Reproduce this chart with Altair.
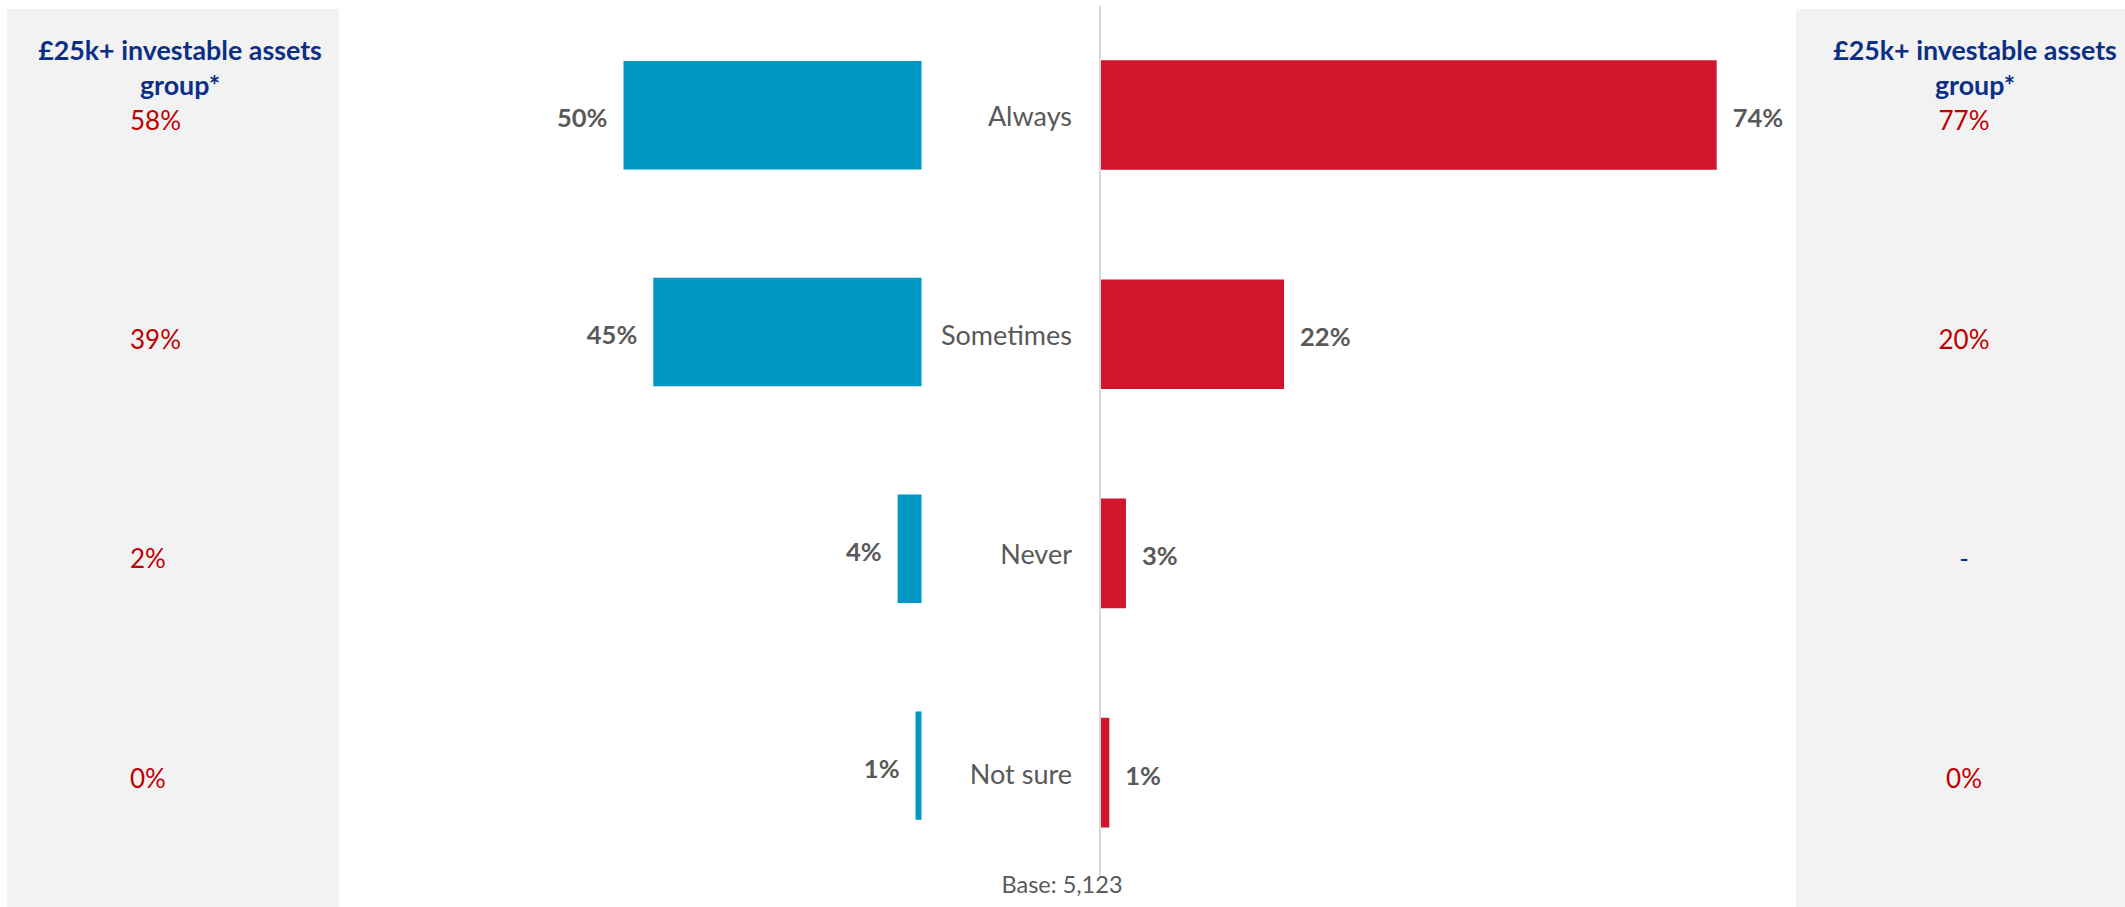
import altair as alt
import pandas as pd

# ---- data ----
categories = ["Always", "Sometimes", "Never", "Not sure"]
left_values = [50, 45, 4, 1]          # blue bars (left side)
right_values = [74, 22, 3, 1]         # red bars (right side)
left_group = ["58%", "39%", "2%", "0%"]
right_group = ["77%", "20%", "-", "0%"]
header_lines = ["£25k+ investable assets", "group*"]
base_note = ["Base: 5,123"]

df = pd.DataFrame({
    "cat": categories,
    "left": left_values,
    "right": right_values,
    "lg": left_group,
    "rg": right_group,
})
one = pd.DataFrame({"k": [0]})
hdr = pd.DataFrame({"text": ["\n".join(header_lines)]})
note = pd.DataFrame({"text": base_note})

FONT = "Lato"
GREY_TXT = "#595959"
BLUE = "#0098C3"
RED = "#D0152D"
NAVY = "#0B2F85"
RED_TXT = "#C00000"
PANEL = "#F2F2F2"

blue_y = alt.Y("cat:N", sort=categories, axis=None,
               scale=alt.Scale(range=[6.8, 874], paddingInner=0.5, paddingOuter=0.25))
red_y = alt.Y("cat:N", sort=categories, axis=None,
              scale=alt.Scale(range=[5.4, 882.2], paddingInner=0.5, paddingOuter=0.25))
blue_x = alt.X("left:Q", axis=None, scale=alt.Scale(domain=[0, 50], range=[921.5, 623.5]))
red_x = alt.X("right:Q", axis=None, scale=alt.Scale(domain=[0, 74], range=[1101, 1716.7]))

# background panels
left_panel = alt.Chart(one).mark_rect(color=PANEL).encode(
    x=alt.value(7), x2=alt.value(339), y=alt.value(9), y2=alt.value(907))
right_panel = alt.Chart(one).mark_rect(color=PANEL).encode(
    x=alt.value(1796), x2=alt.value(2125), y=alt.value(9), y2=alt.value(907))

axis_line = alt.Chart(one).mark_rule(color="#D9D9D9", strokeWidth=2).encode(
    x=alt.value(1100), y=alt.value(6), y2=alt.value(877))

# blue side
blue_bars = alt.Chart(df).mark_bar(color=BLUE).encode(x=blue_x, y=blue_y)
blue_text = alt.Chart(df).transform_calculate(lab="datum.left + '%'").mark_text(
    align="right", baseline="middle", dx=-16, dy=4, font=FONT, fontWeight="bold",
    fontSize=25.5, color=GREY_TXT).encode(x=blue_x, y=blue_y, text="lab:N")
blue = alt.layer(blue_bars, blue_text)

# red side + category labels + group panels (aligned to red rows)
red_bars = alt.Chart(df).mark_bar(color=RED).encode(x=red_x, y=red_y)
red_text = alt.Chart(df).transform_calculate(lab="datum.right + '%'").mark_text(
    align="left", baseline="middle", dx=16, dy=4, font=FONT, fontWeight="bold",
    fontSize=25.5, color=GREY_TXT).encode(x=red_x, y=red_y, text="lab:N")
cat_text = alt.Chart(df).mark_text(
    align="right", baseline="middle", dy=3, font=FONT, fontSize=27,
    color=GREY_TXT).encode(x=alt.value(1072), y=red_y, text="cat:N")
lg_text = alt.Chart(df).mark_text(
    align="left", baseline="middle", dy=7, font=FONT, fontSize=26,
    color=RED_TXT).encode(x=alt.value(130), y=red_y, text="lg:N")
rg_text = alt.Chart(df).mark_text(
    align="center", baseline="middle", dy=7, font=FONT, fontSize=26).encode(
    x=alt.value(1964), y=red_y, text="rg:N",
    color=alt.condition("datum.rg == '-'", alt.value(NAVY), alt.value(RED_TXT)))
red = alt.layer(red_bars, red_text, cat_text, lg_text, rg_text)

# headers and note
left_hdr = alt.Chart(hdr).mark_text(
    align="center", baseline="alphabetic", lineBreak="\n", lineHeight=35,
    font=FONT, fontWeight="bold", fontSize=26.8, color=NAVY).encode(
    x=alt.value(180), y=alt.value(60), text="text:N")
right_hdr = alt.Chart(hdr).mark_text(
    align="center", baseline="alphabetic", lineBreak="\n", lineHeight=35,
    font=FONT, fontWeight="bold", fontSize=26.8, color=NAVY).encode(
    x=alt.value(1975), y=alt.value(60), text="text:N")
note_text = alt.Chart(note).mark_text(
    align="center", baseline="alphabetic", font=FONT, fontSize=23.5,
    color=GREY_TXT).encode(x=alt.value(1062), y=alt.value(893), text="text:N")

chart = alt.layer(
    left_panel, right_panel, axis_line, blue, red, left_hdr, right_hdr, note_text
).resolve_scale(x="independent", y="independent").properties(
    width=2125, height=907, padding=0, autosize=alt.AutoSizeParams(type="none"),
    background="white"
).configure_view(stroke=None)

chart.save("out.html", embed_options={"renderer": "svg", "actions": False})
